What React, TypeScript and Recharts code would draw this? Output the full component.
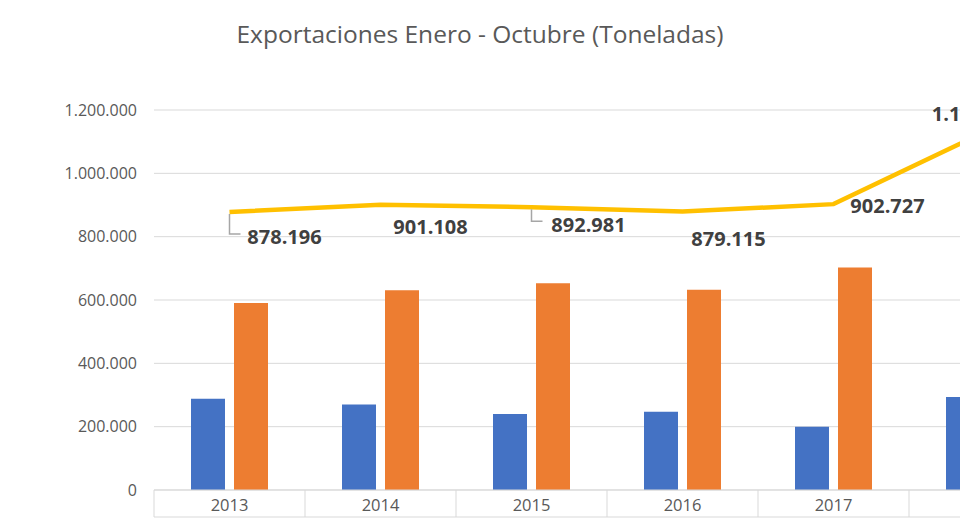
import React from 'react';
import { ComposedChart, Bar, Line, XAxis, YAxis, CartesianGrid, LabelList } from 'recharts';

const years = ['2013', '2014', '2015', '2016', '2017', '2018'];
const serieAzul = [288000, 270000, 240000, 247000, 200000, 294000];
const serieNaranja = [590196, 631108, 652981, 632115, 702727, 836000];
const totales = [878196, 901108, 892981, 879115, 902727, 1130000];
const yTicks = [0, 200000, 400000, 600000, 800000, 1000000, 1200000];

// where Excel left each total label, relative to its point (dx, dy)
const labelOffsets = [[55, 25], [50, 22], [57, 17], [46, 27], [54, 1], [-7, -19]];
// labels that keep a leader line back to the point
const leaderIdx = [0, 2];

const CHART_W = 1060;
const CHART_H = 519;
const Y_AXIS_W = 154;
const BAND = (CHART_W - Y_AXIS_W) / years.length;
const GRID = '#D9D9D9';
const TEXT = '#595959';

const data = years.map((y, i) => ({
  year: y,
  azul: serieAzul[i],
  naranja: serieNaranja[i],
  total: totales[i],
}));

// 1200000 -> "1.200.000"
const fmt = (v: number) => String(Math.round(v)).replace(/\B(?=(\d{3})+(?!\d))/g, '.');

const CategoryTick = (props: any) => {
  const { x, y, payload, index } = props;
  const half = BAND / 2;
  const bottom = CHART_H - 2;
  return (
    <g>
      <line x1={x - half} y1={y} x2={x - half} y2={bottom} stroke={GRID} />
      {index === years.length - 1 && (
        <line x1={x + half} y1={y} x2={x + half} y2={bottom} stroke={GRID} />
      )}
      <line x1={x - half} y1={bottom} x2={x + half} y2={bottom} stroke={GRID} />
      <text x={x} y={y + 14} textAnchor="middle" dominantBaseline="central" fill={TEXT} fontSize={16.5}>
        {payload.value}
      </text>
    </g>
  );
};

const TotalLabel = (props: any) => {
  const { x, y, value, index } = props;
  const [dx, dy] = labelOffsets[index] || [0, -15];
  const lx = x + dx;
  const ly = y + dy;
  return (
    <g>
      {leaderIdx.includes(index) && (
        <polyline
          points={`${x},${y + 2} ${x},${ly - 3} ${x + 11},${ly - 3}`}
          fill="none"
          stroke="#A6A6A6"
          strokeWidth={1.5}
        />
      )}
      <text x={lx} y={ly} textAnchor="middle" dominantBaseline="central" fill="#404040" fontSize={20} fontWeight="bold">
        {fmt(value)}
      </text>
    </g>
  );
};

export default function App() {
  return (
    <div style={{ position: 'absolute', left: 0, top: 0, width: 960, height: 519, overflow: 'hidden', background: '#fff', fontFamily: '"Open Sans", sans-serif' }}>
      <div style={{ position: 'absolute', left: 0, width: 960, top: 22, lineHeight: '24.5px', textAlign: 'center', fontSize: 24.5, color: TEXT, zIndex: 1 }}>
        Exportaciones Enero - Octubre (Toneladas)
      </div>
      <ComposedChart
        width={CHART_W}
        height={CHART_H}
        data={data}
        margin={{ top: 110, right: 0, bottom: 0, left: 0 }}
        barSize={34}
        barGap={9}
      >
        <CartesianGrid vertical={false} stroke={GRID} />
        <XAxis
          dataKey="year"
          height={29}
          axisLine={{ stroke: GRID }}
          tickLine={false}
          tickSize={0}
          tickMargin={0}
          tick={<CategoryTick />}
          interval={0}
        />
        <YAxis
          type="number"
          domain={[0, 1200000]}
          ticks={yTicks}
          width={Y_AXIS_W}
          axisLine={false}
          tickLine={false}
          tickSize={0}
          tickMargin={17}
          tickFormatter={fmt}
          tick={{ fill: TEXT, fontSize: 16 }}
        />
        <Bar dataKey="azul" fill="#4472C4" isAnimationActive={false} />
        <Bar dataKey="naranja" fill="#ED7D31" isAnimationActive={false} />
        <Line
          dataKey="total"
          stroke="#FFC000"
          strokeWidth={4.5}
          dot={false}
          isAnimationActive={false}
        >
          <LabelList dataKey="total" content={<TotalLabel />} />
        </Line>
      </ComposedChart>
    </div>
  );
}
